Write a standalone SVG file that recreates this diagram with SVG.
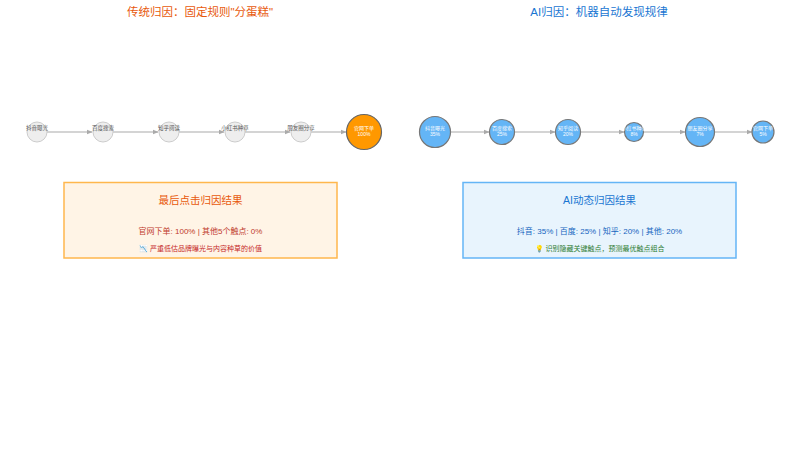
<svg xmlns="http://www.w3.org/2000/svg" width="800" height="454" viewBox="0 0 800 454">
<style>
text{font-family:"Liberation Sans","Noto Sans CJK SC",sans-serif;text-anchor:middle}
.t{font-size:11.5px}
.gn{fill:#eeeeee;stroke:#cccccc;stroke-width:1}
.bn{fill:#64b5f6;stroke:#777777;stroke-width:1.2}
.gl{font-size:5.5px;fill:#555555}
.wl{font-size:5px;fill:#ffffff}
.c{stroke:#aaaaaa;stroke-width:1.2;fill:none;marker-end:url(#a)}
</style>
<defs>
<marker id="a" viewBox="0 0 10 10" refX="9" refY="5" markerWidth="5" markerHeight="5" orient="auto"><path d="M0,1 L10,5 L0,9 z" fill="#aaaaaa"/></marker>
</defs>
<rect width="800" height="454" fill="#ffffff"/>
<text class="t" x="200" y="16" fill="#e8590c">传统归因：固定规则"分蛋糕"</text>
<text class="t" x="599" y="16" fill="#1976d2">AI归因：机器自动发现规律</text>
<g id="connectors">
<line class="c" x1="47" y1="132" x2="92" y2="132"/>
<line class="c" x1="113" y1="132" x2="158" y2="132"/>
<line class="c" x1="179" y1="132" x2="224" y2="132"/>
<line class="c" x1="245" y1="132" x2="290" y2="132"/>
<line class="c" x1="311" y1="132" x2="346" y2="132"/>
<line class="c" x1="451" y1="132" x2="489" y2="132"/>
<line class="c" x1="515" y1="132" x2="555" y2="132"/>
<line class="c" x1="581" y1="132" x2="624" y2="132"/>
<line class="c" x1="644" y1="132" x2="685" y2="132"/>
<line class="c" x1="715" y1="132" x2="752" y2="132"/>
</g>
<g id="l1"><circle class="gn" cx="37" cy="132" r="10"/><text class="gl" x="37" y="130">抖音曝光</text></g>
<g id="l2"><circle class="gn" cx="103" cy="132" r="10"/><text class="gl" x="103" y="130">百度搜索</text></g>
<g id="l3"><circle class="gn" cx="169" cy="132" r="10"/><text class="gl" x="169" y="130">知乎阅读</text></g>
<g id="l4"><circle class="gn" cx="235" cy="132" r="10"/><text class="gl" x="235" y="130">小红书种草</text></g>
<g id="l5"><circle class="gn" cx="301" cy="132" r="10"/><text class="gl" x="301" y="130">朋友圈分享</text></g>
<g id="l6"><circle cx="364" cy="132" r="17.5" fill="#ff9800" stroke="#666666" stroke-width="1.2"/><text class="wl" x="364" y="130">官网下单</text><text class="wl" x="364" y="136">100%</text></g>
<g id="r1"><circle class="bn" cx="435" cy="132" r="15.5"/><text class="wl" x="435" y="130">抖音曝光</text><text class="wl" x="435" y="136">35%</text></g>
<g id="r2"><circle class="bn" cx="502" cy="132" r="12.5"/><text class="wl" x="502" y="130">百度搜索</text><text class="wl" x="502" y="136">25%</text></g>
<g id="r3"><circle class="bn" cx="568" cy="132" r="12.5"/><text class="wl" x="568" y="130">知乎阅读</text><text class="wl" x="568" y="136">20%</text></g>
<g id="r4"><circle class="bn" cx="634" cy="132" r="9.5"/><text class="wl" x="634" y="130">小红书种草</text><text class="wl" x="634" y="136">8%</text></g>
<g id="r5"><circle class="bn" cx="700" cy="132" r="14.5"/><text class="wl" x="700" y="130">朋友圈分享</text><text class="wl" x="700" y="136">7%</text></g>
<g id="r6"><circle class="bn" cx="763" cy="132" r="11"/><text class="wl" x="763" y="130">官网下单</text><text class="wl" x="763" y="136">5%</text></g>
<g id="box-left">
<rect x="64" y="182.5" width="273" height="75.5" fill="#fff4e6" stroke="#ffb74d" stroke-width="1.5"/>
<text x="200.5" y="204" font-size="10.5" fill="#e8590c">最后点击归因结果</text>
<text x="200.5" y="234" font-size="8" fill="#c0392b">官网下单: 100% | 其他5个触点: 0%</text>
<text x="200.5" y="251" font-size="7" fill="#c62828">📉 严重低估品牌曝光与内容种草的价值</text>
</g>
<g id="box-right">
<rect x="463" y="182.5" width="273" height="75.5" fill="#e8f4fd" stroke="#64b5f6" stroke-width="1.5"/>
<text x="599.5" y="204" font-size="10.5" fill="#1976d2">AI动态归因结果</text>
<text x="599.5" y="234" font-size="8" fill="#1565c0">抖音: 35% | 百度: 25% | 知乎: 20% | 其他: 20%</text>
<text x="599.5" y="251" font-size="7" fill="#2e7d32">💡 识别隐藏关键触点，预测最优触点组合</text>
</g>
</svg>
